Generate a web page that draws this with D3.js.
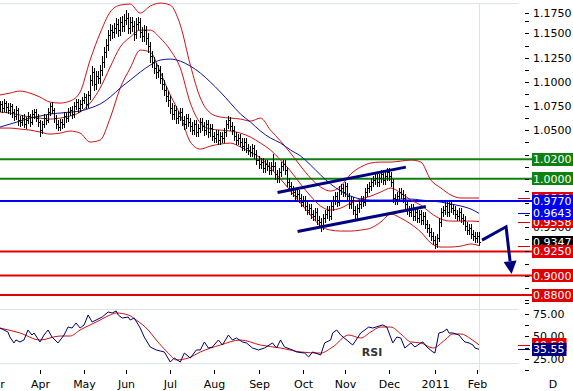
<!DOCTYPE html>
<html>
<head>
<meta charset="utf-8">
<script src="https://cdn.jsdelivr.net/npm/d3@7"></script>
<style>
body { margin: 0; background: #fff; }
svg { display: block; }
text { font-family: "DejaVu Sans", Verdana, sans-serif; }
</style>
</head>
<body>
<div id="main"></div>
<script>
// daily USD/CHF bars, 4 Mar 2010 .. 2 Feb 2011 (weekdays)
const open = [1.0740,1.0771,1.0729,1.0781,1.0740,1.0709,1.0750,1.0688,1.0647,1.0709,
1.0606,1.0585,1.0626,1.0564,1.0606,1.0647,1.0585,1.0668,1.0688,1.0626,
1.0585,1.0502,1.0564,1.0626,1.0606,1.0688,1.0750,1.0709,1.0626,1.0564,
1.0533,1.0585,1.0564,1.0647,1.0626,1.0688,1.0709,1.0668,1.0750,1.0791,
1.0729,1.0771,1.0812,1.0843,1.0771,1.0864,1.1018,1.1101,1.0977,1.1060,
1.1039,1.1122,1.1204,1.1307,1.1380,1.1483,1.1534,1.1514,1.1555,1.1596,
1.1534,1.1617,1.1576,1.1638,1.1658,1.1555,1.1617,1.1576,1.1493,1.1596,
1.1617,1.1514,1.1472,1.1534,1.1452,1.1369,1.1266,1.1204,1.1142,1.1101,
1.1122,1.1039,1.0977,1.0915,1.0853,1.0812,1.0729,1.0668,1.0709,1.0626,
1.0647,1.0688,1.0606,1.0564,1.0626,1.0585,1.0544,1.0502,1.0564,1.0482,
1.0523,1.0585,1.0544,1.0502,1.0564,1.0482,1.0523,1.0440,1.0420,1.0461,
1.0399,1.0440,1.0420,1.0482,1.0564,1.0606,1.0544,1.0502,1.0440,1.0399,
1.0420,1.0379,1.0337,1.0379,1.0317,1.0296,1.0275,1.0317,1.0255,1.0193,
1.0152,1.0172,1.0110,1.0152,1.0131,1.0090,1.0131,1.0131,1.0048,1.0007,
1.0069,1.0131,1.0152,1.0090,0.9966,0.9924,0.9883,0.9863,0.9821,0.9842,
0.9801,0.9759,0.9780,0.9718,0.9677,0.9697,0.9636,0.9615,0.9656,0.9574,
0.9553,0.9512,0.9594,0.9636,0.9677,0.9615,0.9718,0.9780,0.9821,0.9759,
0.9883,0.9904,0.9863,0.9924,0.9821,0.9739,0.9780,0.9677,0.9636,0.9697,
0.9739,0.9780,0.9759,0.9863,0.9904,0.9924,0.9966,0.9986,1.0007,0.9966,
1.0007,1.0048,0.9986,1.0028,1.0069,1.0028,0.9966,0.9801,0.9780,0.9821,
0.9863,0.9842,0.9801,0.9739,0.9677,0.9656,0.9697,0.9615,0.9656,0.9594,
0.9636,0.9574,0.9615,0.9532,0.9491,0.9450,0.9408,0.9367,0.9326,0.9388,
0.9553,0.9656,0.9677,0.9718,0.9656,0.9739,0.9697,0.9677,0.9636,0.9615,
0.9656,0.9594,0.9574,0.9512,0.9470,0.9491,0.9429,0.9408,0.9388,0.9408];

const high = [1.0806,1.0801,1.0826,1.0806,1.0780,1.0780,1.0775,1.0723,1.0754,1.0734,
1.0646,1.0656,1.0671,1.0641,1.0687,1.0672,1.0713,1.0718,1.0723,1.0666,
1.0610,1.0599,1.0666,1.0656,1.0733,1.0785,1.0790,1.0734,1.0656,1.0604,
1.0620,1.0615,1.0687,1.0682,1.0733,1.0739,1.0749,1.0795,1.0826,1.0821,
1.0811,1.0847,1.0888,1.0873,1.0904,1.1068,1.1161,1.1146,1.1110,1.1115,
1.1172,1.1264,1.1357,1.1440,1.1533,1.1594,1.1589,1.1605,1.1656,1.1646,
1.1672,1.1677,1.1698,1.1740,1.1708,1.1667,1.1672,1.1626,1.1656,1.1672,
1.1662,1.1564,1.1584,1.1579,1.1502,1.1414,1.1316,1.1254,1.1192,1.1172,
1.1167,1.1089,1.1022,1.0960,1.0903,1.0857,1.0779,1.0759,1.0754,1.0697,
1.0733,1.0728,1.0651,1.0666,1.0671,1.0625,1.0589,1.0604,1.0604,1.0568,
1.0625,1.0630,1.0584,1.0609,1.0604,1.0563,1.0568,1.0480,1.0501,1.0506,
1.0480,1.0485,1.0522,1.0609,1.0646,1.0641,1.0584,1.0542,1.0480,1.0460,
1.0465,1.0419,1.0419,1.0419,1.0357,1.0336,1.0357,1.0352,1.0295,1.0233,
1.0212,1.0212,1.0192,1.0192,1.0171,1.0171,1.0255,1.0171,1.0088,1.0109,
1.0176,1.0192,1.0192,1.0125,1.0006,0.9964,0.9923,0.9903,0.9882,0.9882,
0.9841,0.9820,0.9820,0.9758,0.9737,0.9737,0.9676,0.9696,0.9696,0.9614,
0.9593,0.9634,0.9676,0.9717,0.9717,0.9758,0.9820,0.9861,0.9861,0.9923,
0.9944,0.9944,0.9964,0.9959,0.9856,0.9820,0.9815,0.9717,0.9737,0.9779,
0.9820,0.9820,0.9903,0.9944,0.9964,1.0006,1.0026,1.0047,1.0047,1.0047,
1.0088,1.0088,1.0068,1.0109,1.0109,1.0068,0.9996,0.9841,0.9861,0.9903,
0.9903,0.9882,0.9841,0.9779,0.9717,0.9737,0.9737,0.9696,0.9696,0.9676,
0.9676,0.9655,0.9655,0.9572,0.9531,0.9490,0.9448,0.9407,0.9428,0.9593,
0.9696,0.9717,0.9758,0.9758,0.9779,0.9779,0.9737,0.9717,0.9676,0.9696,
0.9696,0.9634,0.9614,0.9552,0.9531,0.9531,0.9469,0.9448,0.9448,0.9448];

const low = [1.0700,1.0684,1.0704,1.0690,1.0674,1.0664,1.0638,1.0607,1.0617,1.0556,
1.0545,1.0550,1.0534,1.0519,1.0576,1.0545,1.0560,1.0628,1.0591,1.0540,
1.0445,1.0472,1.0534,1.0566,1.0581,1.0658,1.0674,1.0586,1.0519,1.0498,
1.0503,1.0519,1.0539,1.0586,1.0596,1.0653,1.0628,1.0638,1.0715,1.0684,
1.0699,1.0731,1.0777,1.0726,1.0741,1.0824,1.0968,1.0917,1.0927,1.0984,
1.0989,1.1072,1.1154,1.1257,1.1330,1.1433,1.1454,1.1464,1.1500,1.1474,
1.1484,1.1526,1.1521,1.1598,1.1500,1.1505,1.1521,1.1433,1.1453,1.1546,
1.1464,1.1417,1.1422,1.1392,1.1309,1.1206,1.1149,1.1087,1.1041,1.1051,
1.0984,1.0922,1.0860,1.0798,1.0752,1.0674,1.0613,1.0618,1.0571,1.0576,
1.0602,1.0556,1.0514,1.0519,1.0540,1.0494,1.0457,1.0457,1.0437,1.0437,
1.0483,1.0499,1.0452,1.0462,1.0432,1.0437,1.0395,1.0375,1.0380,1.0354,
1.0359,1.0375,1.0380,1.0442,1.0524,1.0499,1.0457,1.0400,1.0354,1.0359,
1.0339,1.0292,1.0297,1.0272,1.0256,1.0235,1.0235,1.0210,1.0148,1.0107,
1.0112,1.0065,1.0070,1.0091,1.0045,1.0050,1.0090,0.9998,0.9962,0.9967,
1.0029,1.0091,1.0045,0.9921,0.9879,0.9843,0.9818,0.9781,0.9781,0.9756,
0.9719,0.9714,0.9678,0.9632,0.9637,0.9591,0.9570,0.9575,0.9529,0.9508,
0.9462,0.9477,0.9554,0.9596,0.9575,0.9580,0.9678,0.9740,0.9719,0.9724,
0.9843,0.9823,0.9823,0.9781,0.9699,0.9699,0.9637,0.9591,0.9596,0.9657,
0.9699,0.9719,0.9724,0.9823,0.9864,0.9884,0.9926,0.9946,0.9926,0.9926,
0.9967,0.9946,0.9946,0.9988,0.9988,0.9926,0.9761,0.9740,0.9740,0.9781,
0.9802,0.9761,0.9699,0.9637,0.9616,0.9616,0.9575,0.9575,0.9554,0.9554,
0.9534,0.9534,0.9492,0.9451,0.9410,0.9368,0.9327,0.9290,0.9296,0.9358,
0.9513,0.9616,0.9637,0.9616,0.9616,0.9657,0.9637,0.9596,0.9575,0.9575,
0.9554,0.9534,0.9472,0.9430,0.9430,0.9389,0.9368,0.9348,0.9348,0.9318];

const close = [1.0771,1.0729,1.0781,1.0740,1.0709,1.0750,1.0688,1.0647,1.0709,1.0606,
1.0585,1.0626,1.0564,1.0606,1.0647,1.0585,1.0668,1.0688,1.0626,1.0585,
1.0502,1.0564,1.0626,1.0606,1.0688,1.0750,1.0709,1.0626,1.0564,1.0533,
1.0585,1.0564,1.0647,1.0626,1.0688,1.0709,1.0668,1.0750,1.0791,1.0729,
1.0771,1.0812,1.0843,1.0771,1.0864,1.1018,1.1101,1.0977,1.1060,1.1039,
1.1122,1.1204,1.1307,1.1380,1.1483,1.1534,1.1514,1.1555,1.1596,1.1534,
1.1617,1.1576,1.1638,1.1658,1.1555,1.1617,1.1576,1.1493,1.1596,1.1617,
1.1514,1.1472,1.1534,1.1452,1.1369,1.1266,1.1204,1.1142,1.1101,1.1122,
1.1039,1.0977,1.0915,1.0853,1.0812,1.0729,1.0668,1.0709,1.0626,1.0647,
1.0688,1.0606,1.0564,1.0626,1.0585,1.0544,1.0502,1.0564,1.0482,1.0523,
1.0585,1.0544,1.0502,1.0564,1.0482,1.0523,1.0440,1.0420,1.0461,1.0399,
1.0440,1.0420,1.0482,1.0564,1.0606,1.0544,1.0502,1.0440,1.0399,1.0420,
1.0379,1.0337,1.0379,1.0317,1.0296,1.0275,1.0317,1.0255,1.0193,1.0152,
1.0172,1.0110,1.0152,1.0131,1.0090,1.0131,1.0131,1.0048,1.0007,1.0069,
1.0131,1.0152,1.0090,0.9966,0.9924,0.9883,0.9863,0.9821,0.9842,0.9801,
0.9759,0.9780,0.9718,0.9677,0.9697,0.9636,0.9615,0.9656,0.9574,0.9553,
0.9512,0.9594,0.9636,0.9677,0.9615,0.9718,0.9780,0.9821,0.9759,0.9883,
0.9904,0.9863,0.9924,0.9821,0.9739,0.9780,0.9677,0.9636,0.9697,0.9739,
0.9780,0.9759,0.9863,0.9904,0.9924,0.9966,0.9986,1.0007,0.9966,1.0007,
1.0048,0.9986,1.0028,1.0069,1.0028,0.9966,0.9801,0.9780,0.9821,0.9863,
0.9842,0.9801,0.9739,0.9677,0.9656,0.9697,0.9615,0.9656,0.9594,0.9636,
0.9574,0.9615,0.9532,0.9491,0.9450,0.9408,0.9367,0.9326,0.9388,0.9553,
0.9656,0.9677,0.9718,0.9656,0.9739,0.9697,0.9677,0.9636,0.9615,0.9656,
0.9594,0.9574,0.9512,0.9470,0.9491,0.9429,0.9408,0.9388,0.9408,0.9347];

// bollinger bands and moving average, read every 5 trading days (day 0 = 1 Apr 2010)
const bandDay = [-20,-15,-10,-5,0,5,10,15,20,25,30,35,40,45,50,55,60,65,70,75,
80,85,90,95,100,105,110,115,120,125,130,135,140,145,150,155,160,165,170,175,
180,185,190,195,200,205,210,215,219];
const bandUpper = [1.0864,1.0884,1.0905,1.0884,1.0843,1.0791,1.0781,1.0802,1.0895,1.1225,
1.1503,1.1720,1.1792,1.1803,1.1710,1.1782,1.1813,1.1792,1.1586,1.1173,
1.0833,1.0678,1.0637,1.0626,1.0616,1.0595,1.0626,1.0502,1.0389,1.0265,
1.0131,1.0007,0.9914,0.9873,0.9924,1.0048,1.0121,1.0162,1.0172,1.0172,
1.0182,1.0193,1.0172,0.9986,0.9904,0.9832,0.9801,0.9801,0.9801];
const bandMiddle = [1.0688,1.0678,1.0657,1.0637,1.0626,1.0616,1.0626,1.0647,1.0688,1.0781,
1.0936,1.1153,1.1359,1.1462,1.1534,1.1534,1.1452,1.1328,1.1142,1.0781,
1.0575,1.0513,1.0502,1.0492,1.0471,1.0430,1.0368,1.0296,1.0193,1.0079,
0.9945,0.9821,0.9718,0.9677,0.9697,0.9749,0.9790,0.9821,0.9863,0.9904,
0.9852,0.9780,0.9728,0.9646,0.9584,0.9563,0.9563,0.9563,0.9558];
const bandLower = [1.0523,1.0523,1.0513,1.0502,1.0482,1.0461,1.0471,1.0492,1.0471,1.0379,
1.0399,1.0626,1.0936,1.1142,1.1328,1.1307,1.1101,1.0864,1.0657,1.0379,
1.0306,1.0337,1.0358,1.0368,1.0327,1.0275,1.0213,1.0110,0.9997,0.9873,
0.9749,0.9625,0.9512,0.9470,0.9460,0.9460,0.9470,0.9491,0.9553,0.9636,
0.9594,0.9532,0.9450,0.9336,0.9295,0.9295,0.9305,0.9326,0.9310];
const movAvg = [1.0533,1.0564,1.0595,1.0626,1.0647,1.0668,1.0678,1.0688,1.0698,1.0729,
1.0771,1.0843,1.0936,1.1018,1.1101,1.1173,1.1225,1.1235,1.1214,1.1163,
1.1091,1.0998,1.0895,1.0781,1.0668,1.0585,1.0492,1.0420,1.0368,1.0296,
1.0234,1.0141,1.0038,0.9945,0.9873,0.9821,0.9790,0.9780,0.9780,0.9780,
0.9790,0.9790,0.9780,0.9770,0.9759,0.9739,0.9718,0.9687,0.9643];

// RSI and its signal line
const rsiDay = [-20,-16,-15,-13,-12,-10,-8,-6,-4,-3,0,2,4,6,9,12,14,16,18,20,22,24,26,28,31,34,36,38,39,41,
44,45,47,50,52,55,58,62,65,67,70,72,75,78,80,82,84,86,89,91,94,96,98,101,103,106,109,112,116,118,
120,122,126,128,132,134,136,140,142,145,146,148,150,156,160,164,166,171,173,176,178,180,182,185,187,190,191,193,196,197,
199,201,203,204,206,209,211,212,214,216,217,219];
const rsi = [59.2,54.8,49.2,42.6,45.9,43.7,45.9,57.0,51.4,53.7,43.7,51.4,57.0,49.2,42.6,51.4,60.3,59.2,64.8,59.2,62.6,73.7,65.9,68.1,71.4,77.0,75.9,78.1,73.7,70.3,
71.4,68.1,70.3,59.2,49.2,38.1,34.8,32.6,21.4,25.9,21.4,31.4,25.9,34.8,34.8,43.7,37.0,38.1,45.9,40.3,51.4,45.9,48.1,43.7,42.6,37.0,34.8,37.0,42.6,37.0,
45.9,38.1,34.8,32.6,31.4,27.0,32.6,29.2,42.6,45.9,53.7,57.0,51.4,40.3,53.7,60.3,59.2,62.6,60.3,42.6,49.2,48.1,37.0,42.6,38.1,42.6,43.7,38.1,32.6,31.4,
53.7,54.8,58.1,53.7,53.7,51.4,45.9,43.7,42.6,40.3,37.0,35.55];
const sigDay = [-20,-10,0,10,15,20,25,30,35,38,44,48,54,58,64,68,74,80,90,100,110,120,130,140,146,154,160,165,170,175,180,185,190,196,202,206,210,215,219];
const sig = [59.2,53.7,45.9,50.3,50.3,57.0,62.6,68.1,73.7,75.9,73.7,68.1,57.0,45.9,31.4,23.7,25.9,32.6,40.3,45.9,40.3,37.0,32.6,31.4,38.1,51.4,48.1,54.8,60.3,60.3,52.6,43.7,42.6,37.0,45.9,52.6,52.6,47.0,40.5];

// drawn levels and trend lines
const levelPrice = [1.0200, 1.0000, 0.9770, 0.9250, 0.9000, 0.8800];
const levelColor = ["#108010", "#108010", "#0000f0", "#e00000", "#e00000", "#e00000"];
const channelTop = [[118.5, 0.9857], [182.5, 1.0120]];
const channelBottom = [[128.5, 0.9455], [192.5, 0.9713]];
const arrowPath = [[220.5, 0.9366], [232.5, 0.9504], [235.25, 0.9016]];

const W = 573, H = 391;
const svg = d3.select("#main").append("svg").attr("width", W).attr("height", H);

const firstDay = new Date(2010, 2, 4);
const days = d3.timeDay.range(firstDay, new Date(2011, 1, 3)).filter((d) => d.getDay() % 6 !== 0);
const apr1 = new Date(2010, 3, 1);
const origin = days.findIndex((d) => +d === +apr1);
const weekdayIndex = (date) => {
	const a = date < apr1 ? date : apr1;
	const b = date < apr1 ? apr1 : date;
	const n = d3.timeDay.range(a, b).filter((d) => d.getDay() % 6 !== 0).length;
	return date < apr1 ? -n : n;
};

const x = d3.scaleLinear().domain([0, 218]).range([40, 477]);
const y = d3.scaleLinear().domain([0.88, 1.175]).range([295, 9.2]);
const ry = d3.scaleLinear().domain([0, 100]).range([381.3, 291.3]);
const plotRight = 518;

// panel frame lines
const grid = svg.append("g").attr("stroke", "#dce3ea").attr("shape-rendering", "crispEdges");
[ry(80), ry(20)].forEach((v) => {
	grid.append("line").attr("x1", 0).attr("x2", plotRight).attr("y1", Math.round(v) + 0.5).attr("y2", Math.round(v) + 0.5);
});
grid.append("line").attr("x1", 0).attr("x2", plotRight).attr("y1", 3.5).attr("y2", 3.5);
const lastX = Math.round(x(days.length - 1 - origin)) + 0.5;
grid.append("line").attr("x1", lastX).attr("x2", lastX).attr("y1", 3).attr("y2", 372);

// horizontal levels
levelPrice.forEach((p, i) => {
	svg.append("line")
		.attr("x1", 0).attr("x2", 533)
		.attr("y1", y(p)).attr("y2", y(p))
		.attr("stroke", levelColor[i]).attr("stroke-width", 2);
});

// bands
const bandLine = (vals) => d3.line()
	.x((d, i) => x(bandDay[i]))
	.y((d) => y(d))
	.curve(d3.curveMonotoneX)(vals);
[bandUpper, bandMiddle, bandLower].forEach((vals) => {
	svg.append("path").attr("d", bandLine(vals)).attr("fill", "none").attr("stroke", "#cc1111").attr("stroke-width", 1);
});
svg.append("path").attr("d", bandLine(movAvg)).attr("fill", "none").attr("stroke", "#1010a0").attr("stroke-width", 1);

// OHLC bars
let barD = "";
close.forEach((c, k) => {
	const px = Math.round(x(k - origin));
	const yo = Math.round(y(open[k])) + 0.5;
	const yc = Math.round(y(c)) + 0.5;
	barD += `M${px + 0.5},${Math.round(y(high[k]))}V${Math.round(y(low[k])) + 1}`;
	barD += `M${px - 1},${yo}H${px}M${px + 1},${yc}H${px + 2}`;
});
svg.append("path").attr("d", barD).attr("stroke", "#000").attr("fill", "none").attr("shape-rendering", "crispEdges");

// channel and forecast arrow
const navy = "#000080";
const pl = d3.line().x((d) => x(d[0])).y((d) => y(d[1]));
[channelTop, channelBottom].forEach((seg) => {
	svg.append("path").attr("d", pl(seg)).attr("stroke", navy).attr("stroke-width", 3).attr("fill", "none");
});
const tip = arrowPath[2], knee = arrowPath[1];
const tx = x(tip[0]), ty = y(tip[1]), kx = x(knee[0]), ky = y(knee[1]);
const len = Math.hypot(tx - kx, ty - ky), ux = (tx - kx) / len, uy = (ty - ky) / len;
const bx = tx - ux * 13, by = ty - uy * 13;
svg.append("path").attr("d", pl([arrowPath[0], knee, [x.invert(bx), y.invert(by)]]))
	.attr("stroke", navy).attr("stroke-width", 3).attr("fill", "none");
svg.append("path")
	.attr("d", `M${tx},${ty}L${bx - uy * 6.5},${by + ux * 6.5}L${bx + uy * 6.5},${by - ux * 6.5}Z`)
	.attr("fill", navy);

// RSI lines
svg.append("path")
	.attr("d", d3.line().x((d, i) => x(sigDay[i])).y((d) => ry(d)).curve(d3.curveMonotoneX)(sig))
	.attr("fill", "none").attr("stroke", "#cc1111");
svg.append("path")
	.attr("d", d3.line().x((d, i) => x(rsiDay[i])).y((d) => ry(d))(rsi))
	.attr("fill", "none").attr("stroke", "#000070");
svg.append("text").attr("x", 372).attr("y", 356).attr("text-anchor", "middle")
	.attr("font-size", 11).attr("font-weight", "bold").attr("fill", "#333").text("RSI");

// right price axis
const boxes = [
	{ v: 1.0200, c: "#108010" },
	{ v: 1.0000, c: "#108010" },
	{ v: bandUpper[bandUpper.length - 1], c: "#e00000" },
	{ v: 0.9770, c: "#0000f0" },
	{ v: bandMiddle[bandMiddle.length - 1], c: "#e00000" },
	{ v: movAvg[movAvg.length - 1], c: "#0000f0" },
	{ v: bandLower[bandLower.length - 1], c: "#e00000" },
	{ v: close[close.length - 1], c: "#000000" },
	{ v: 0.9250, c: "#e00000" },
	{ v: 0.9000, c: "#e00000" },
	{ v: 0.8800, c: "#e00000" },
];
const axis = svg.append("g");
d3.range(70, 95).forEach((k) => {
	const v = k * 0.0125;
	let yy = y(v);
	const major = k % 2 === 0;
	if (major) yy = Math.max(yy, 13);
	axis.append("line").attr("x1", 525).attr("x2", 529).attr("y1", Math.round(yy) + 0.5).attr("y2", Math.round(yy) + 0.5)
		.attr("stroke", "#000").attr("shape-rendering", "crispEdges");
	const hidden = boxes.some((b) => Math.abs(y(b.v) - y(v)) < 5.5);
	if (major && !hidden) {
		axis.append("text").attr("x", 533).attr("y", yy).attr("dy", "0.36em")
			.attr("font-size", 11).attr("fill", "#000").text(v.toFixed(4));
	}
});
d3.range(1, 8).forEach((k) => {
	const v = k * 12.5;
	const yy = Math.round(ry(v)) + 0.5;
	axis.append("line").attr("x1", 525).attr("x2", 529).attr("y1", yy).attr("y2", yy)
		.attr("stroke", "#000").attr("shape-rendering", "crispEdges");
	if (k % 2 === 0) {
		axis.append("text").attr("x", 533).attr("y", ry(v)).attr("dy", "0.36em")
			.attr("font-size", 11).attr("fill", "#000").text(v.toFixed(2));
	}
});

// indicator markers in the margin
[[bandUpper, "#e00000"], [movAvg, "#0000f0"], [bandMiddle, "#e00000"], [bandLower, "#e00000"]].forEach(([vals, c]) => {
	const yy = Math.round(y(vals[vals.length - 1])) + 0.5;
	svg.append("line").attr("x1", 518).attr("x2", 530).attr("y1", yy).attr("y2", yy).attr("stroke", c);
});
[[sig, "#e00000"], [rsi, "#000080"]].forEach(([vals, c]) => {
	const yy = Math.round(ry(vals[vals.length - 1])) + 0.5;
	svg.append("line").attr("x1", 518).attr("x2", 530).attr("y1", yy).attr("y2", yy).attr("stroke", c);
});

const label = (yy, txt, color) => {
	const g = svg.append("g");
	const r = g.append("rect").attr("fill", color);
	const t = g.append("text").attr("x", 533).attr("y", yy).attr("dy", "0.36em")
		.attr("font-size", 11).attr("fill", "#fff").text(txt);
	const w = t.node().getComputedTextLength();
	r.attr("x", 532).attr("y", Math.round(yy - 6.5)).attr("width", w + 3).attr("height", 13);
};
boxes.forEach((b) => label(y(b.v), b.v.toFixed(4), b.c));
label(ry(sig[sig.length - 1]), sig[sig.length - 1].toFixed(2), "#e00000");
label(ry(rsi[rsi.length - 1]), rsi[rsi.length - 1].toFixed(2), "#000080");

// month axis
const months = d3.timeMonth.range(new Date(2010, 2, 1), new Date(2011, 2, 1));
const mAxis = svg.append("g");
months.forEach((m) => {
	const px = Math.round(x(weekdayIndex(m))) + 0.5;
	mAxis.append("line").attr("x1", px).attr("x2", px).attr("y1", 370).attr("y2", 374)
		.attr("stroke", "#000").attr("shape-rendering", "crispEdges");
	mAxis.append("text").attr("x", px).attr("y", 388).attr("text-anchor", "middle")
		.attr("font-size", 11).attr("fill", "#000")
		.text(m.getMonth() === 0 ? d3.timeFormat("%Y")(m) : d3.timeFormat("%b")(m));
});
svg.append("text").attr("x", 553).attr("y", 388).attr("text-anchor", "middle")
	.attr("font-size", 11).attr("fill", "#000").text("D");
</script>
</body>
</html>
